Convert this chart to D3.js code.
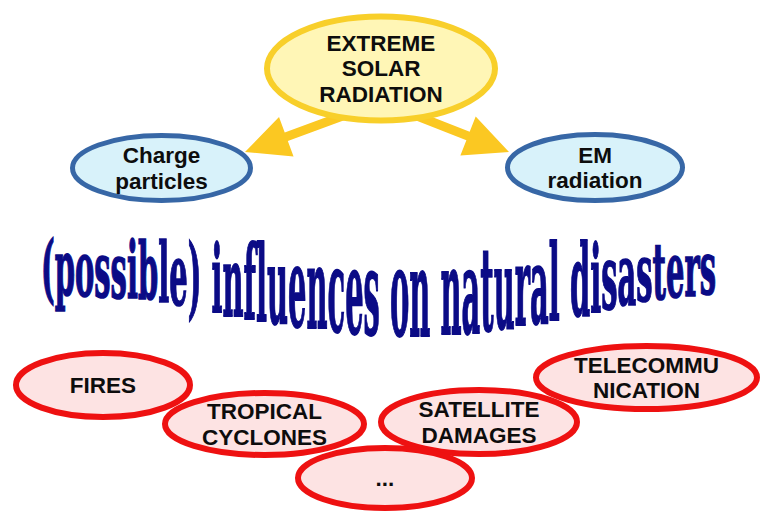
<!DOCTYPE html>
<meta charset="utf-8">

<!-- Load d3.js -->
<script src="https://d3js.org/d3.v7.min.js"></script>
<style>
  body { margin: 0; background: #fff; }
</style>

<!-- Create a div where the graph will take place -->
<div id="my_dataviz"></div>

<script>

// labels of the diagram
var sourceLines = ["EXTREME", "SOLAR", "RADIATION"];
var pathwayLines = [["Charge", "particles"], ["EM", "radiation"]];
var effectLines = [["FIRES"], ["TROPICAL", "CYCLONES"], ["SATELLITE", "DAMAGES"], ["TELECOMMU", "NICATION"], ["..."]];
var titleText = "(possible) influences on natural disasters";

// bubble layout (centre + radii), same order as the labels
var sourceBox = {cx: 381, cy: 68.5, rx: 114, ry: 52};
var pathwayBoxes = [
  {cx: 161.5, cy: 168, rx: 89, ry: 32.5},
  {cx: 595, cy: 167.5, rx: 87.5, ry: 33}
];
var effectBoxes = [
  {cx: 103, cy: 385, rx: 87, ry: 32},
  {cx: 264.5, cy: 424, rx: 99.5, ry: 31},
  {cx: 479, cy: 422, rx: 98, ry: 32},
  {cx: 646.5, cy: 377.5, rx: 110.5, ry: 31.5},
  {cx: 385, cy: 478, rx: 87, ry: 30}
];

var width = 760, height = 511;

var svg = d3.select("#my_dataviz")
  .append("svg")
    .attr("width", width)
    .attr("height", height)
    .style("display", "block");

svg.append("rect").attr("width", width).attr("height", height).attr("fill", "#fff");

// fat arrow as a closed polygon from start point to tip
function arrowPath(s, t) {
  var dx = t[0] - s[0], dy = t[1] - s[1];
  var len = Math.sqrt(dx * dx + dy * dy);
  var ux = dx / len, uy = dy / len, nx = -uy, ny = ux;
  var headLen = 44, headW = 21, shaftW = 4.5;
  var bx = t[0] - ux * headLen, by = t[1] - uy * headLen;
  var pts = [
    [s[0] + nx * shaftW, s[1] + ny * shaftW],
    [bx + nx * shaftW, by + ny * shaftW],
    [bx + nx * headW, by + ny * headW],
    t,
    [bx - nx * headW, by - ny * headW],
    [bx - nx * shaftW, by - ny * shaftW],
    [s[0] - nx * shaftW, s[1] - ny * shaftW]
  ];
  return d3.line()(pts) + "Z";
}

var arrows = [[[348, 114], [245, 152]], [[412, 114], [509, 152]]];
svg.selectAll(".arrow")
  .data(arrows)
  .join("path")
    .attr("class", "arrow")
    .attr("d", function(d) { return arrowPath(d[0], d[1]); })
    .attr("fill", "#fbc822");

// draws one bubble with its centred lines of text
function bubble(box, lines, stroke, fill, sw) {
  var g = svg.append("g");
  g.append("ellipse")
    .attr("cx", box.cx).attr("cy", box.cy)
    .attr("rx", box.rx).attr("ry", box.ry)
    .attr("fill", fill)
    .attr("stroke", stroke)
    .attr("stroke-width", sw);
  g.selectAll("text")
    .data(lines)
    .join("text")
      .attr("x", box.cx)
      .attr("y", function(d, i) { return box.cy + 7.8 + (i - (lines.length - 1) / 2) * 25.5; })
      .attr("text-anchor", "middle")
      .attr("font-family", "Liberation Sans, Arial, sans-serif")
      .attr("font-weight", "bold")
      .attr("font-size", 22.5)
      .attr("fill", "#0d0d0d")
      .text(function(d) { return d; });
}

bubble(sourceBox, sourceLines, "#f8cf2a", "#fff6b6", 6);
pathwayBoxes.forEach(function(b, i) { bubble(b, pathwayLines[i], "#3767a6", "#d8f2fa", 5); });

// warped title: each letter is squeezed sideways and stretched between
// a top line and a sagging baseline
var baseY = d3.scaleLinear()
  .domain([40, 150, 250, 350, 410, 470, 570, 650, 716])
  .range([294, 299, 319, 333, 336, 333, 318, 300, 293]);
var topY = d3.scaleLinear()
  .domain([40, 380, 716])
  .range([237, 244, 239]);

var title = svg.append("g")
  .attr("fill", "#0b0b86")
  .attr("stroke", "#0b0b86");
var chars = title.selectAll("text")
  .data(titleText.split(""))
  .join("text")
    .attr("font-family", "DejaVu Serif, serif")
    .attr("font-weight", "bold")
    .attr("font-size", 100)
    .attr("stroke-width", 1.3)
    .attr("vector-effect", "non-scaling-stroke")
    .style("white-space", "pre")
    .text(function(d) { return d; });

var widths = [];
chars.each(function() { widths.push(this.getComputedTextLength()); });
var total = d3.sum(widths);
var x0 = 41, x1 = 716;
var sx = (x1 - x0) / total;
var cum = 0;
chars.attr("transform", function(d, i) {
  var x = x0 + cum * sx;
  var mid = x + widths[i] * sx / 2;
  cum += widths[i];
  var b = baseY(mid), t = topY(mid);
  var sy = (b - t) / 76;
  return "translate(" + x + "," + b + ") scale(" + sx + "," + sy + ")";
});

effectBoxes.forEach(function(b, i) { bubble(b, effectLines[i], "#ee1111", "#fde3e3", 6); });

</script>
